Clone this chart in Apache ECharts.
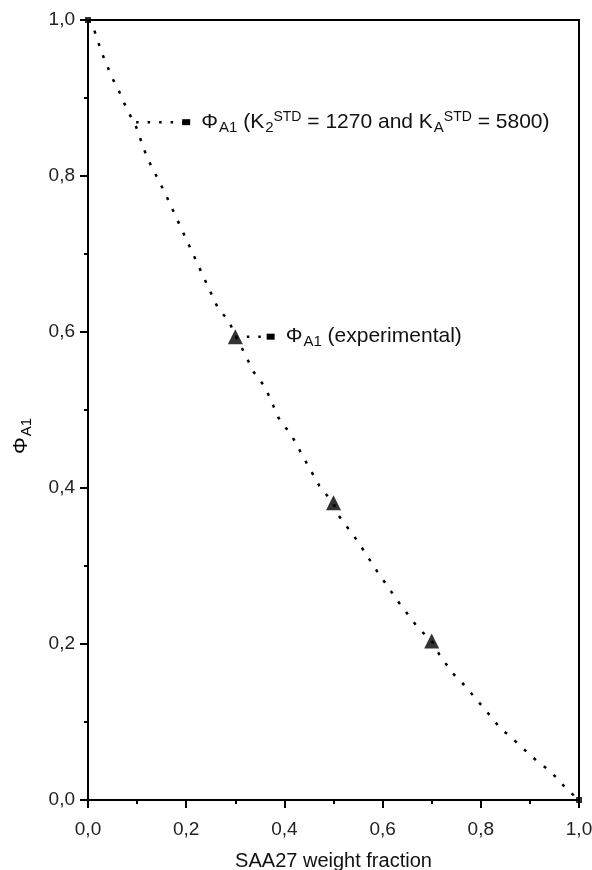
<!DOCTYPE html>
<html>
<head>
<meta charset="utf-8">
<script src="https://cdn.jsdelivr.net/npm/echarts@6/dist/echarts.min.js"></script>
<style>
	html, body { margin: 0; padding: 0; background: #fff; }
	#chartDiv { width: 592px; height: 870px; }
</style>
</head>
<body>
<div id="chartDiv"></div>
<script>
// model curve (K2STD = 1270, KASTD = 5800)
var modelX = [0, 0.008, 0.028, 0.049, 0.063, 0.079, 0.098, 0.12, 0.157, 0.265, 0.286, 0.3, 0.324, 0.337, 0.361, 0.388, 0.416, 0.439, 0.471, 0.5, 0.51, 0.549, 0.588, 0.631, 0.673, 0.7, 0.716, 0.742, 0.761, 0.806, 0.841, 0.859, 0.888, 0.916, 0.931, 0.959, 0.973, 1.0];
var modelY = [1.0, 0.996, 0.958, 0.926, 0.909, 0.886, 0.863, 0.824, 0.778, 0.63, 0.615, 0.596, 0.566, 0.549, 0.529, 0.49, 0.466, 0.439, 0.403, 0.38, 0.365, 0.332, 0.294, 0.255, 0.22, 0.204, 0.186, 0.163, 0.151, 0.118, 0.091, 0.082, 0.065, 0.049, 0.042, 0.026, 0.015, 0];

// experimental points
var expX = [0.3, 0.5, 0.7];
var expY = [0.594, 0.381, 0.204];

// pure components
var endX = [0, 1];
var endY = [1, 0];

// leader lines of the two labels
var modelLeadX = [0.098, 0.2];
var modelLeadY = [0.869, 0.869];
var expLeadX = [0.3, 0.372];
var expLeadY = [0.594, 0.594];

var modelLabel = '{b|Φ}{sub|A1}{b| (K}{sub|2}{sup|STD}{b| = 1270 and K}{sub|A}{sup|STD}{b| = 5800)}';
var expLabel = '{b|Φ}{sub|A1}{b| (experimental)}';
var yName = '{b|Φ}{sub|A1}';
var xName = 'SAA27 weight fraction';

var chart, dom;

var richStyle = {
	b: { fontSize: 21, color: '#111', fontFamily: 'Liberation Sans' },
	sub: { fontSize: 15, color: '#111', fontFamily: 'Liberation Sans', padding: [11, 0, 0, 1] },
	sup: { fontSize: 14, color: '#111', fontFamily: 'Liberation Sans', padding: [0, 0, 11, 0] }
};

function zip(xs, ys) {
	var res = [];
	for (var i = 0; i < xs.length; i++) {
		res.push([xs[i], ys[i]]);
	}
	return res;
}

function leader(xs, ys, text) {
	var data = zip(xs, ys);
	return {
		type: 'line',
		data: [
			{ value: data[0], symbol: 'none' },
			{
				value: data[1],
				symbol: 'rect',
				symbolSize: [8, 6],
				label: {
					show: true,
					position: 'right',
					distance: 11,
					formatter: text,
					rich: richStyle
				}
			}
		],
		lineStyle: {
			color: '#000',
			width: 2.5,
			type: [2.5, 9]
		},
		itemStyle: { color: '#000' },
		silent: true,
		animation: false,
		z: 3
	};
}

function toComma(value) {
	return value.toFixed(1).replace('.', ',');
}

function draw() {
	dom = document.getElementById('chartDiv');
	chart = echarts.init(dom);

	var option = {
		backgroundColor: '#fff',
		grid: {
			left: 88,
			right: 13,
			top: 20,
			bottom: 70,
			outerBoundsMode: 'none',
			show: true,
			borderColor: '#000',
			borderWidth: 2
		},
		xAxis: {
			type: 'value',
			min: 0,
			max: 1,
			interval: 0.2,
			name: xName,
			nameLocation: 'middle',
			nameGap: 51,
			nameTextStyle: { fontSize: 20, color: '#111', fontFamily: 'Liberation Sans' },
			splitLine: { show: false },
			axisLine: { lineStyle: { color: '#000', width: 2 } },
			axisTick: { show: true, length: 8, lineStyle: { color: '#000', width: 2 } },
			minorTick: { show: true, splitNumber: 2, length: 4, lineStyle: { color: '#000', width: 2 } },
			axisLabel: {
				fontSize: 19,
				color: '#222',
				fontFamily: 'Liberation Sans',
				margin: 20,
				formatter: toComma
			}
		},
		yAxis: {
			type: 'value',
			min: 0,
			max: 1,
			interval: 0.2,
			splitLine: { show: false },
			axisLine: { lineStyle: { color: '#000', width: 2 } },
			axisTick: { show: true, length: 8, lineStyle: { color: '#000', width: 2 } },
			minorTick: { show: true, splitNumber: 2, length: 4, lineStyle: { color: '#000', width: 2 } },
			axisLabel: {
				fontSize: 19,
				color: '#222',
				fontFamily: 'Liberation Sans',
				margin: 13,
				formatter: toComma
			}
		},
		graphic: [
			{
				type: 'text',
				left: 11,
				top: 418,
				rotation: Math.PI / 2,
				style: {
					text: yName,
					rich: richStyle
				}
			}
		],
		series: [
			{
				name: 'model',
				type: 'line',
				data: zip(modelX, modelY),
				symbol: 'none',
				lineStyle: { color: '#000', width: 2.5, type: [3, 10] },
				silent: true,
				animation: false,
				z: 2
			},
			leader(modelLeadX, modelLeadY, modelLabel),
			leader(expLeadX, expLeadY, expLabel),
			{
				name: 'experimental',
				type: 'scatter',
				data: zip(expX, expY),
				symbol: 'triangle',
				symbolSize: 15,
				itemStyle: { color: '#000' },
				silent: true,
				animation: false,
				z: 4
			},
			{
				name: 'ends',
				type: 'scatter',
				data: zip(endX, endY),
				symbol: 'rect',
				symbolSize: 6,
				itemStyle: { color: '#000' },
				silent: true,
				animation: false,
				z: 4
			}
		]
	};
	chart.setOption(option, true);
}

draw();
</script>
</body>
</html>
